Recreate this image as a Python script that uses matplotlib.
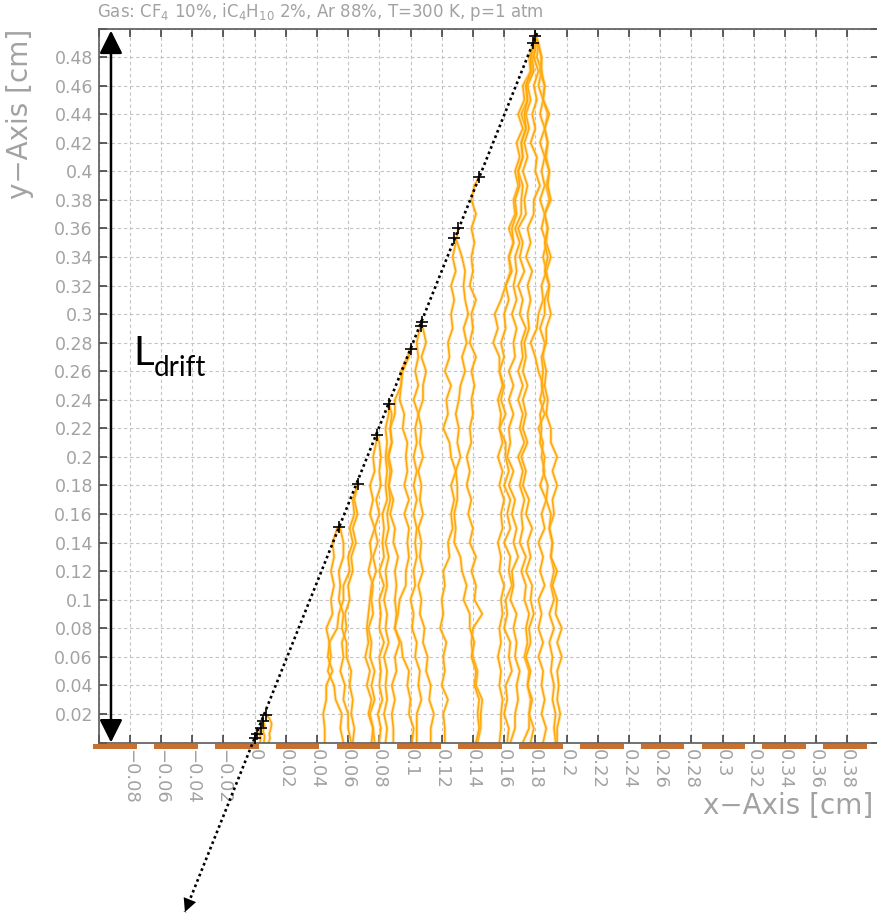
import numpy as np
import matplotlib.pyplot as plt
from matplotlib.patches import Rectangle

# 1. Textos y ejes
titulo = r'Gas: CF$_4$ 10%, iC$_4$H$_{10}$ 2%, Ar 88%, T=300 K, p=1 atm'
ticks_x = [-0.1, -0.08, -0.06, -0.04, -0.02, 0.0, 0.02, 0.04, 0.06, 0.08, 0.1, 0.12, 0.14,
           0.16, 0.18, 0.2, 0.22, 0.24, 0.26, 0.28, 0.3, 0.32, 0.34, 0.36, 0.38, 0.4]
etiquetas_x = ['', '−0.08', '−0.06', '−0.04', '−0.02', '0', '0.02', '0.04', '0.06', '0.08', '0.1',
               '0.12', '0.14', '0.16', '0.18', '0.2', '0.22', '0.24', '0.26', '0.28', '0.3',
               '0.32', '0.34', '0.36', '0.38', '']
ticks_y = [0.0, 0.02, 0.04, 0.06, 0.08, 0.1, 0.12, 0.14, 0.16, 0.18, 0.2, 0.22, 0.24, 0.26,
           0.28, 0.3, 0.32, 0.34, 0.36, 0.38, 0.4, 0.42, 0.44, 0.46, 0.48, 0.5]
etiquetas_y = ['', '0.02', '0.04', '0.06', '0.08', '0.1', '0.12', '0.14', '0.16', '0.18', '0.2',
               '0.22', '0.24', '0.26', '0.28', '0.3', '0.32', '0.34', '0.36', '0.38', '0.4',
               '0.42', '0.44', '0.46', '0.48', '']

# 2. Tiras de lectura bajo el plano (centro en cm)
centros_tiras = [-0.0894, -0.0504, -0.0114, 0.0276, 0.0666, 0.1056, 0.1446,
                 0.1836, 0.2226, 0.2616, 0.3006, 0.3396, 0.3786]
ancho_tira = 0.028

# 3. Traza de la partícula y puntos de ionización (x, y en 1e-3 cm)
traza_ini = (181.1, 496.8)
traza_fin = (-44.6, -118.7)
ionizacion_x = [180.0, 178.5, 144.0, 130.7, 128.0, 107.1, 106.5, 100.2, 86.2, 78.3, 66.1, 54.2,
                7.2, 5.3, 4.0, 1.4, 0.1]
ionizacion_y = [495.0, 490.0, 396.0, 360.0, 353.5, 294.3, 292.0, 275.8, 237.0, 215.3, 181.2, 151.0,
                19.6, 15.4, 10.5, 6.3, 3.5]

# 4. Derivas de electrones: punto inicial y x (1e-3 cm) en niveles de y cada 0.01 cm hasta y=0
deriva_t1 = (180.0, 495.0, [179, 176, 177, 172, 173, 169, 172, 168, 170, 167,
                            169, 166, 167, 163, 166, 163, 164, 161, 158, 154,
                            156, 153, 157, 157, 160, 158, 161, 157, 161, 161,
                            163, 160, 164, 162, 164, 160, 164, 163, 165, 161,
                            162, 160, 164, 163, 165, 161, 162, 160, 163, 162])
deriva_t2 = (180.0, 495.0, [180, 177, 178, 174, 175, 171, 174, 171, 172, 169,
                            172, 171, 171, 167, 170, 167, 168, 166, 168, 165,
                            168, 166, 167, 163, 166, 163, 166, 163, 164, 162,
                            166, 163, 167, 165, 168, 166, 169, 165, 166, 164,
                            168, 166, 168, 167, 170, 168, 169, 167, 167, 164])
deriva_t3 = (180.0, 495.0, [180, 178, 179, 175, 177, 174, 176, 173, 175, 172,
                            175, 173, 174, 169, 172, 170, 173, 169, 172, 170,
                            174, 171, 172, 169, 172, 169, 172, 170, 173, 169,
                            172, 170, 173, 171, 172, 170, 174, 171, 174, 173,
                            176, 174, 175, 173, 176, 175, 177, 176, 176, 172])
deriva_t4 = (180.0, 495.0, [181, 179, 182, 179, 181, 178, 180, 177, 181, 180,
                            183, 179, 179, 175, 177, 174, 178, 175, 177, 175,
                            176, 173, 174, 172, 175, 172, 174, 172, 175, 171,
                            174, 172, 176, 174, 178, 175, 177, 174, 178, 177,
                            179, 176, 177, 174, 177, 175, 178, 176, 179, 177])
deriva_t5 = (180.0, 495.0, [182, 181, 184, 182, 185, 183, 186, 183, 186, 184,
                            186, 183, 186, 184, 187, 185, 187, 184, 185, 182,
                            181, 177, 180, 182, 185, 183, 186, 182, 185, 184,
                            186, 183, 187, 184, 186, 182, 185, 183, 186, 182,
                            184, 182, 185, 182, 185, 184, 186, 184, 187, 185])
deriva_t6 = (180.0, 495.0, [181, 184, 183, 186, 185, 188, 186, 188, 187, 189,
                            187, 189, 186, 188, 187, 190, 187, 189, 186, 186,
                            183, 186, 185, 187, 186, 188, 187, 190, 190, 194,
                            191, 194, 191, 192, 189, 191, 190, 192, 190, 192,
                            189, 192, 189, 191, 190, 192, 191, 193, 192, 193])
deriva_t7 = (180.0, 495.0, [182, 184, 184, 186, 185, 189, 186, 188, 186, 189,
                            188, 190, 186, 188, 186, 188, 186, 189, 188, 190,
                            187, 187, 184, 185, 184, 186, 183, 184, 183, 186,
                            185, 188, 187, 190, 189, 191, 190, 194, 191, 194,
                            193, 197, 194, 197, 194, 195, 194, 196, 194, 194])
deriva_t8 = (180.0, 495.0, [179, 177, 177, 174, 175, 173, 174, 171, 172, 169,
                            170, 167, 168, 165, 166, 163, 165, 161, 163, 160,
                            161, 158, 160, 157, 159, 156, 158, 157, 159, 156,
                            159, 157, 160, 158, 159, 156, 158, 157, 160, 158,
                            159, 157, 158, 156, 158, 157, 159, 158, 158, 157])
deriva_c2a = (144.0, 396.0, [141, 139, 142, 139, 141, 139, 140, 138, 142, 139,
                             140, 138, 142, 139, 141, 139, 140, 138, 139, 136,
                             138, 136, 139, 137, 140, 138, 142, 139, 142, 141,
                             146, 140, 139, 140, 143, 142, 146, 145, 145, 143])
deriva_c3a = (130.7, 360.0, [129, 127, 129, 126, 128, 126,
                             127, 124, 125, 122, 126, 123, 124, 121, 125, 126,
                             129, 126, 128, 126, 127, 124, 125, 121, 122, 120,
                             121, 119, 123, 121, 122, 120, 124, 121, 122, 122])
deriva_c3b = (128.0, 353.5, [130, 133, 135, 134, 135, 137,
                             134, 136, 133, 135, 132, 131, 129, 131, 130, 132,
                             129, 130, 130, 128, 129, 128, 132, 133, 136, 134,
                             138, 138, 141, 139, 142, 141, 144, 143, 144, 142])
deriva_c4a = (107.1, 294.3, [106, 104, 105, 103, 105, 102, 105, 103, 104, 102,
                             104, 102, 104, 102, 104, 103, 104, 102, 103, 100,
                             102, 101, 104, 103, 106, 105, 107, 104, 104, 104])
deriva_c4b = (106.5, 292.0, [108, 110, 107, 110, 108, 108, 105, 107, 106, 108,
                             105, 107, 106, 108, 105, 107, 106, 108, 105, 107,
                             106, 109, 108, 111, 110, 113, 112, 115, 113, 113])
deriva_c5a = (100.2, 275.8, [98, 94, 94, 93, 96, 95, 98, 97,
                             98, 96, 99, 96, 99, 98, 99, 97, 97, 93,
                             92, 90, 94, 95, 99, 98, 100, 99, 102, 101])
deriva_c5b = (100.2, 275.8, [99, 95, 94, 90, 90, 87, 88, 85,
                             87, 86, 89, 87, 90, 89, 92, 90, 91, 90,
                             91, 90, 93, 90, 91, 88, 90, 88, 89, 89])
deriva_c6a = (86.2, 237.0, [86, 84, 85, 84,
                            85, 84, 85, 82, 83, 82, 83, 80, 83, 80,
                            81, 80, 83, 80, 81, 80, 82, 79, 81, 80])
deriva_c6b = (86.2, 237.0, [88, 87, 88, 86,
                            88, 86, 87, 85, 86, 84, 86, 84, 85, 83,
                            85, 84, 86, 83, 85, 84, 85, 83, 85, 84])
deriva_c7a = (78.3, 215.3, [78, 76,
                            77, 74, 76, 74, 77, 74, 75, 73, 76, 75,
                            76, 73, 75, 74, 77, 75, 77, 74, 76, 77])
deriva_c7b = (78.3, 215.3, [80, 81,
                            80, 81, 78, 80, 77, 79, 76, 78, 75, 74,
                            73, 72, 73, 71, 74, 72, 75, 73, 76, 75])
deriva_c8a = (66.1, 181.2, [66, 64, 66, 63, 65, 62, 63, 60, 61,
                            58, 59, 56, 57, 55, 58, 57, 60, 60, 62])
deriva_c8b = (66.1, 181.2, [66, 63, 64, 61, 63, 60, 61, 57, 57,
                            54, 53, 48, 49, 47, 51, 52, 56, 55, 57])
deriva_c9a = (54.2, 151.0, [53, 50, 51, 49, 51, 49,
                            50, 46, 48, 47, 50, 46, 46, 44, 45, 45])
deriva_c9b = (54.2, 151.0, [55, 57, 57, 54, 55, 54,
                            57, 56, 59, 59, 62, 61, 63, 62, 64, 63])

# derivas cortas junto al origen (x, y en 1e-3 cm)
corta_1_x = [7.2, 9.5, 11.0, 10.5, 9.5, 10.0, 9.0]
corta_1_y = [19.6, 17.0, 13.0, 10.0, 6.0, 3.0, 0.0]
corta_2_x = [5.3, 6.5, 5.5, 6.5, 6.0]
corta_2_y = [15.4, 12.0, 8.0, 4.0, 0.0]
corta_3_x = [4.0, 3.0, 4.0, 3.5]
corta_3_y = [10.5, 7.0, 3.0, 0.0]

derivas = [deriva_t1, deriva_t2, deriva_t3, deriva_t4, deriva_t5, deriva_t6, deriva_t7, deriva_t8,
           deriva_c2a, deriva_c3a, deriva_c3b, deriva_c4a, deriva_c4b, deriva_c5a, deriva_c5b,
           deriva_c6a, deriva_c6b, deriva_c7a, deriva_c7b, deriva_c8a, deriva_c8b,
           deriva_c9a, deriva_c9b]
cortas = [(corta_1_x, corta_1_y), (corta_2_x, corta_2_y), (corta_3_x, corta_3_y)]

# 5. Figura
gris = '#a2a2a2'
fig = plt.figure(figsize=(8.77, 9.24), dpi=100)
ax = fig.add_axes([98.5 / 877, (924 - 742.5) / 924, 780 / 877, 714 / 924])
ax.set_xlim(-0.1, 0.4)
ax.set_ylim(0, 0.5)
ax.set_axisbelow(True)
ax.grid(True, color='#c4c4c4', linestyle=(0, (3, 2.5)), linewidth=0.8)

ax.set_xticks(ticks_x)
ax.set_xticklabels(etiquetas_x, rotation=-90, fontsize=13, color=gris)
ax.set_yticks(ticks_y)
ax.set_yticklabels(etiquetas_y, fontsize=12.5, color=gris)
ax.tick_params(axis='both', direction='in', length=5.5, width=1.1, color='#333333',
               top=True, right=True)
ax.tick_params(axis='x', pad=5)
ax.tick_params(axis='y', pad=4)
for lado in ax.spines.values():
    lado.set_color('#5a5a5a')
    lado.set_linewidth(1.2)

# derivas (halo claro + línea naranja)
for x0, y0, xs in derivas:
    niveles = 0.01 * np.arange(len(xs))[::-1]
    x = np.concatenate([[x0 / 1000], np.array(xs) / 1000])
    y = np.concatenate([[y0 / 1000], niveles])
    ax.plot(x, y, color='#ffc860', lw=2.6, alpha=0.4, solid_joinstyle='round')
    ax.plot(x, y, color='#ffa500', lw=1.2, alpha=0.95, solid_joinstyle='round')
for xs, ys in cortas:
    x = np.array(xs) / 1000
    y = np.array(ys) / 1000
    ax.plot(x, y, color='#ffc860', lw=2.6, alpha=0.4)
    ax.plot(x, y, color='#ffa500', lw=1.2, alpha=0.95)

# traza punteada con flecha
tx = np.array([traza_ini[0], traza_fin[0]]) / 1000
ty = np.array([traza_ini[1], traza_fin[1]]) / 1000
ax.plot(tx, ty, color='black', lw=1.9, linestyle=(0, (1, 1.2)), clip_on=False, zorder=5)
ax.annotate('', xy=(tx[1], ty[1]), xytext=(tx[1] + 0.04 * (tx[0] - tx[1]), ty[1] + 0.04 * (ty[0] - ty[1])),
            arrowprops=dict(arrowstyle='-|>,head_length=0.6,head_width=0.3', color='black',
                            lw=0, mutation_scale=16, shrinkA=0, shrinkB=0),
            annotation_clip=False, zorder=5)
ax.plot(np.array(ionizacion_x) / 1000, np.array(ionizacion_y) / 1000, '+', color='black',
        markersize=9, markeredgewidth=1.2, zorder=6)

# tiras de lectura
for c in centros_tiras:
    ax.add_patch(Rectangle((c - ancho_tira / 2, -0.0048), ancho_tira, 0.0038,
                           facecolor='#c8702f', edgecolor='none', clip_on=False, zorder=4))

# flecha doble de la longitud de deriva
ax.annotate('', xy=(-0.092, 0.0), xytext=(-0.092, 0.4985),
            arrowprops=dict(arrowstyle='<|-|>,head_length=0.7,head_width=0.35', color='black',
                            lw=1.8, mutation_scale=20, shrinkA=0, shrinkB=0),
            annotation_clip=False, zorder=6)
ax.text(-0.0775, 0.2644, 'L', fontsize=29, family='Lato', color='black', va='baseline')
ax.text(-0.0648, 0.2565, 'drift', fontsize=20, family='Lato', color='black', va='baseline')

# títulos de ejes
fig.text(97 / 877, 1 - 17 / 924, titulo, fontsize=12, color=gris, va='baseline')
fig.text(20 / 877, 1 - 29 / 924, 'y−Axis [cm]', fontsize=20, color=gris, rotation=90,
         ha='center', va='top')
fig.text(873 / 877, 1 - 806 / 924, 'x−Axis [cm]', fontsize=20, color=gris,
         ha='right', va='center')

fig.savefig('out.png', dpi=100)
